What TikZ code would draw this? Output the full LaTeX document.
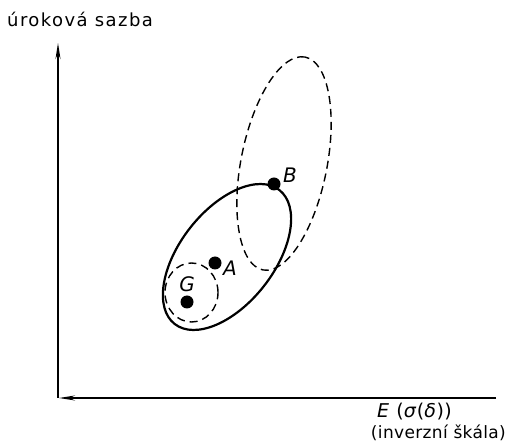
\documentclass[tikz,border=0pt]{standalone}
\usepackage{fontspec}
\setmainfont{DejaVu Sans}
\usepackage{xcolor}
\usetikzlibrary{arrows.meta}

\begin{document}
\begin{tikzpicture}[x=1pt, y=1pt,
  every node/.style={inner sep=0pt},
  axis/.style={line width=1.2pt, -{Stealth[length=16pt,width=5pt]}},
  dot/.style={circle, fill=black, minimum size=13pt},
  lbl/.style={font=\fontsize{20}{22}\selectfont\itshape},
  dashline/.style={line width=1.4pt, dash pattern=on 8pt off 5pt}]
\useasboundingbox (0,0) rectangle (506,447);

% === axes ===
\coordinate (origin) at (58,49);
\coordinate (ytop) at (58,404);
\coordinate (xleft) at (59,49);
\coordinate (xright) at (496,49);
\draw[axis] (origin) -- (ytop);
\draw[axis] (xright) -- (xleft);
\node[anchor=base west, font=\fontsize{18}{20}\selectfont\addfontfeatures{LetterSpace=8}] (ylab) at (7,420) {úroková sazba};
\node[anchor=base west, font=\fontsize{19}{21}\selectfont\addfontfeatures{LetterSpace=3}] (xlab) at (377,29) {\textit{E} (\textit{σ}(\textit{δ}))};
\node[anchor=base east, font=\fontsize{17}{19}\selectfont\addfontfeatures{LetterSpace=2}] (xnote) at (506,8) {(inverzní škála)};

% === sets ===
\draw[line width=2.2pt] (227,190) ellipse[x radius=85, y radius=47, rotate=52];
\draw[dashline] (284,283.5) ellipse[x radius=108.5, y radius=43, rotate=78.8];
\draw[dashline] (191.5,154.5) ellipse[x radius=26.5, y radius=29.5];

% === points ===
\node[dot] (B) at (274,263) {};
\node[lbl] (Blab) at (290,272) {B};
\node[dot] (A) at (215,184) {};
\node[lbl] (Alab) at (230,179) {A};
\node[dot] (G) at (187,145) {};
\node[lbl] (Glab) at (187,163) {G};
\end{tikzpicture}
\end{document}
